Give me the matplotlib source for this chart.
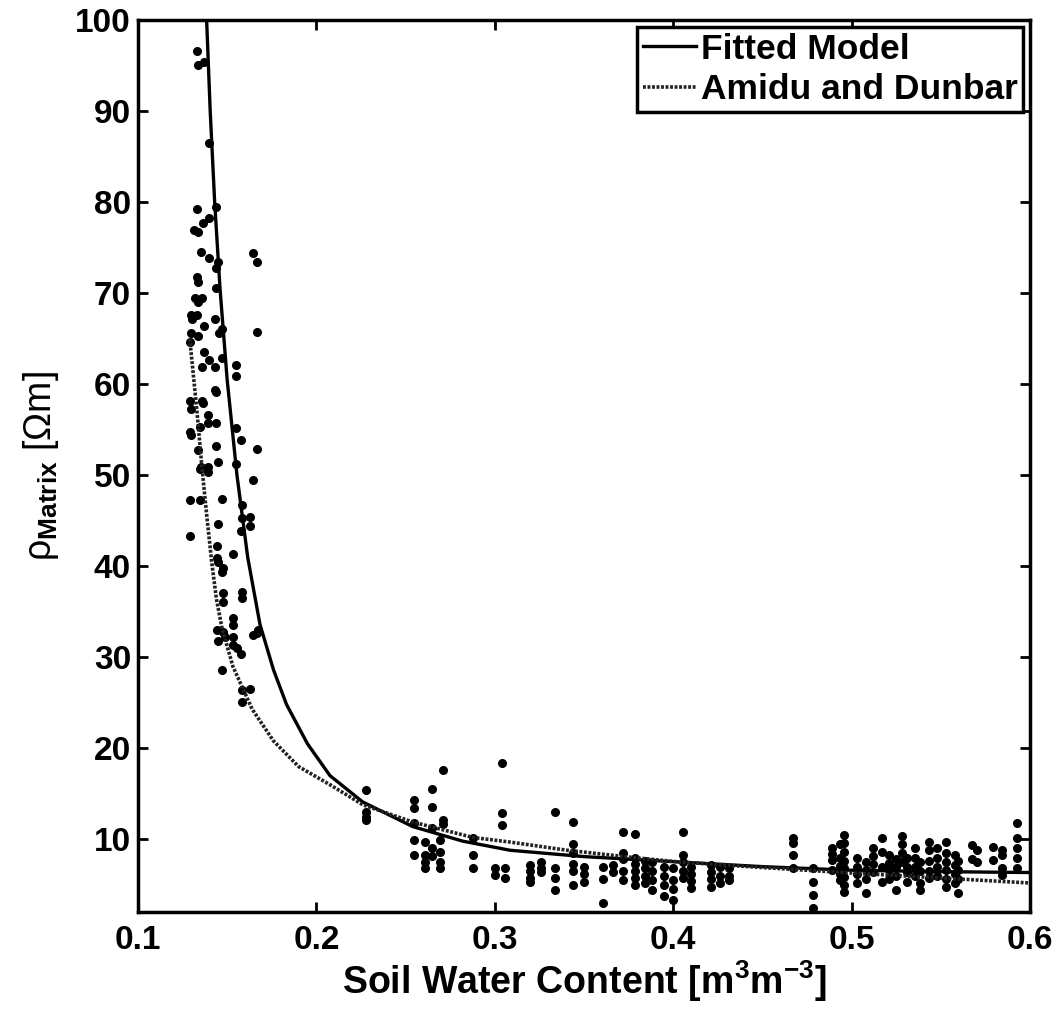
import numpy as np
import matplotlib.pyplot as plt

plt.rcParams['font.family'] = ['Liberation Sans', 'DejaVu Sans']
plt.rcParams['font.weight'] = 'bold'
plt.rcParams['mathtext.fontset'] = 'custom'
plt.rcParams['mathtext.rm'] = 'Liberation Sans'
plt.rcParams['mathtext.bf'] = 'Liberation Sans:bold'
plt.rcParams['mathtext.it'] = 'Liberation Sans:italic'

# dry end of the data (steep part)
theta_dry = [0.133, 0.1336, 0.137, 0.1398, 0.1437, 0.133, 0.140, 0.1365, 0.1314, 0.1336,
             0.1353, 0.140, 0.1448, 0.1437, 0.1645, 0.1667, 0.1667, 0.133, 0.1336, 0.1437,
             0.132, 0.136, 0.1336, 0.1297, 0.133, 0.1303, 0.137, 0.143, 0.147, 0.1454,
             0.1297, 0.1336, 0.129, 0.137, 0.140, 0.147, 0.155, 0.143, 0.136,
             0.155, 0.143, 0.1437, 0.129, 0.136, 0.1364, 0.1297, 0.139, 0.139, 0.1437,
             0.1348, 0.129, 0.1297, 0.155, 0.1578, 0.1667, 0.1437, 0.1336, 0.1353, 0.139,
             0.139, 0.1348, 0.1448, 0.155, 0.1645, 0.129, 0.1348, 0.147, 0.1583, 0.1583,
             0.1628, 0.1628, 0.1578, 0.1448, 0.129, 0.1443, 0.1532, 0.1443, 0.1448, 0.1476,
             0.147, 0.1583, 0.1583, 0.1476, 0.1476, 0.1532, 0.1532, 0.1443, 0.1476, 0.1448,
             0.1488, 0.1532, 0.1645, 0.1673, 0.1667, 0.1532, 0.1555, 0.1578, 0.147, 0.1583,
             0.1628, 0.1583]
rho_dry = [96.6, 95.1, 95.4, 86.5, 79.5, 79.3, 78.3, 77.7, 77.0, 76.7,
           74.5, 73.9, 73.4, 72.8, 74.4, 73.4, 65.7, 71.8, 71.2, 70.6,
           69.5, 69.5, 69.0, 67.6, 67.6, 67.2, 66.4, 67.2, 66.1, 65.6,
           65.6, 65.3, 64.6, 63.5, 62.7, 62.9, 62.1, 61.9, 61.9,
           60.9, 59.4, 59.1, 58.2, 58.2, 57.9, 57.3, 56.6, 55.7, 55.7,
           55.3, 54.7, 54.4, 55.2, 53.9, 52.9, 53.2, 52.8, 50.9, 50.9,
           50.4, 50.7, 51.5, 51.2, 49.5, 47.3, 47.3, 47.4, 46.7, 45.3,
           45.4, 44.4, 43.9, 44.6, 43.3, 42.2, 41.4, 40.9, 40.5, 39.8,
           39.4, 37.2, 36.5, 37.1, 36.1, 34.3, 33.6, 33.0, 32.8, 31.8,
           32.2, 32.2, 32.4, 33.0, 32.7, 31.3, 31.0, 30.4, 28.6, 26.4,
           26.5, 25.1]

# wetter samples, grouped by soil water content
theta_groups = [0.2278, 0.2547, 0.2609, 0.2648, 0.2693, 0.271, 0.2878, 0.300, 0.304, 0.3057,
                0.3197, 0.326, 0.3337, 0.3438, 0.35, 0.3607, 0.366, 0.3719, 0.3786, 0.384,
                0.388, 0.395, 0.400, 0.4055, 0.41, 0.421, 0.426, 0.431, 0.467, 0.478,
                0.489, 0.4935, 0.4957, 0.503, 0.508, 0.512, 0.517, 0.521, 0.525, 0.528,
                0.531, 0.5355, 0.538, 0.543, 0.548, 0.553, 0.558, 0.5596, 0.5675, 0.570,
                0.579, 0.584, 0.5927]
rho_groups = [[15.4, 13.0, 12.4, 12.1], [14.3, 13.4, 11.8, 9.9, 8.3], [9.7, 8.3, 7.5, 6.9],
              [15.5, 13.6, 11.2, 9.1, 8.2], [9.9, 8.6, 7.5, 6.8], [17.6, 12.1, 11.7],
              [10.1, 8.3, 6.9], [6.8, 6.1], [18.4, 12.9, 11.6], [6.8, 5.8],
              [7.2, 6.5, 5.8, 5.3], [7.5, 6.9, 6.4], [13.0, 6.8, 5.8, 4.4],
              [11.9, 9.5, 8.5, 7.3, 6.5, 5.0], [7.0, 6.2, 5.3], [7.0, 5.6, 3.0], [7.2, 6.4],
              [10.8, 8.5, 7.8, 6.5, 5.5], [10.6, 8.0, 7.3, 6.5, 5.8, 5.0], [7.6, 6.8, 6.0, 5.2],
              [7.5, 6.5, 5.5, 4.4], [7.0, 6.0, 5.0, 3.8], [6.8, 5.5, 4.5, 3.3],
              [10.8, 8.3, 7.5, 6.5, 5.8], [7.0, 6.2, 5.4, 4.6], [7.2, 6.4, 5.6, 4.8],
              [7.0, 6.0, 5.2], [6.8, 6.0, 5.5], [10.2, 9.6, 8.3, 6.9], [6.8, 5.3, 3.9, 2.5],
              [9.1, 8.4, 7.7, 6.6], [9.5, 8.0, 7.1, 6.2, 5.5],
              [10.5, 9.6, 8.6, 7.6, 6.8, 5.9, 5.0, 4.2], [7.9, 7.0, 6.2, 5.2],
              [7.5, 6.6, 5.6, 4.1], [9.0, 8.2, 7.3, 6.4], [10.1, 8.6, 7.0, 5.3],
              [8.3, 7.4, 6.6, 5.6], [7.8, 7.0, 6.0, 4.4], [10.4, 9.5, 8.5, 7.5],
              [8.0, 7.0, 6.4, 5.3], [9.0, 8.0, 7.0, 6.0], [7.5, 6.5, 5.2, 4.4],
              [9.7, 8.8, 7.6, 6.5, 5.7], [9.0, 8.0, 7.0, 6.0], [9.7, 8.5, 7.5, 6.6, 5.6, 4.8],
              [8.3, 7.2, 6.2, 5.2], [7.6, 6.6, 5.6, 4.1], [9.4, 7.8], [8.8, 7.5],
              [9.2, 7.7], [8.8, 8.3, 6.9, 6.1], [11.8, 10.2, 9.1, 8.0, 6.9]]

# curves
fit_theta = [0.1385, 0.1405, 0.1430, 0.1460, 0.1500, 0.1555, 0.1615, 0.1684, 0.1760, 0.1833,
             0.1950, 0.2076, 0.2260, 0.2540, 0.2820, 0.3085, 0.3500, 0.4040, 0.4500, 0.5000,
             0.5500, 0.6000]
fit_rho = [100, 90, 80, 70.5, 60.5, 50, 41.0, 33.6, 28.6, 24.8,
           20.5, 17.0, 14.1, 11.4, 9.8, 8.8, 8.1, 7.5, 7.0, 6.6,
           6.45, 6.35]
ad_theta = [0.1290, 0.1303, 0.1330, 0.1359, 0.1387, 0.1415, 0.1440, 0.1470, 0.1532, 0.1640,
            0.1760, 0.1900, 0.2076, 0.2260, 0.2540, 0.2878, 0.3085, 0.3405, 0.3775, 0.4040,
            0.4500, 0.5000, 0.5500, 0.6000]
ad_rho = [65, 62.5, 57.2, 50.8, 45.3, 40.2, 36.4, 33.3, 29.0, 24.3,
          20.8, 18.0, 16.0, 13.8, 11.9, 10.2, 9.7, 8.8, 8.0, 7.5,
          6.9, 6.3, 5.75, 5.2]

theta_wet = []
rho_wet = []
for t, rs in zip(theta_groups, rho_groups):
    for r in rs:
        theta_wet.append(t)
        rho_wet.append(r)

fig = plt.figure(figsize=(10.61, 10.09), dpi=100)
ax = fig.add_axes([0.130, 0.096, 0.841, 0.884])

ax.plot(theta_dry, rho_dry, 'o', color='black', ms=5.5)
ax.plot(theta_wet, rho_wet, 'o', color='black', ms=5.5)
ax.plot(fit_theta, fit_rho, '-', color='black', lw=2.4, label='Fitted Model')
ax.plot(ad_theta, ad_rho, color='#222222', lw=2.6, linestyle=(0, (0.8, 0.45)),
        label='Amidu and Dunbar')

ax.set_xlim(0.1, 0.6)
ax.set_ylim(2, 100)
ax.set_xticks([0.1, 0.2, 0.3, 0.4, 0.5, 0.6])
ax.set_xticklabels(['0.1', '0.2', '0.3', '0.4', '0.5', '0.6'])
ax.set_yticks(range(10, 101, 10))
ax.tick_params(direction='in', length=7, width=2, labelsize=24, top=True, right=True)
ax.tick_params(axis='x', pad=9)
ax.tick_params(axis='y', pad=5)
for s in ax.spines.values():
    s.set_linewidth(2.5)

ax.set_xlabel(r'Soil Water Content [m$^{\mathbf{3}}$m$^{\mathbf{-3}}$]', fontsize=27, fontweight='bold', labelpad=2)
ax.set_ylabel(r'ρ$_{\mathbf{Matrix}}$ [Ωm]', fontsize=27, fontweight='normal', labelpad=10)

leg = ax.legend(loc='upper right', fontsize=25.5, handlelength=1.5, handletextpad=0.15,
                borderaxespad=0.2, fancybox=False, framealpha=1, edgecolor='black',
                borderpad=0.15, labelspacing=0.22)
leg.get_frame().set_linewidth(2.5)

fig.savefig('out.png', dpi=100)
